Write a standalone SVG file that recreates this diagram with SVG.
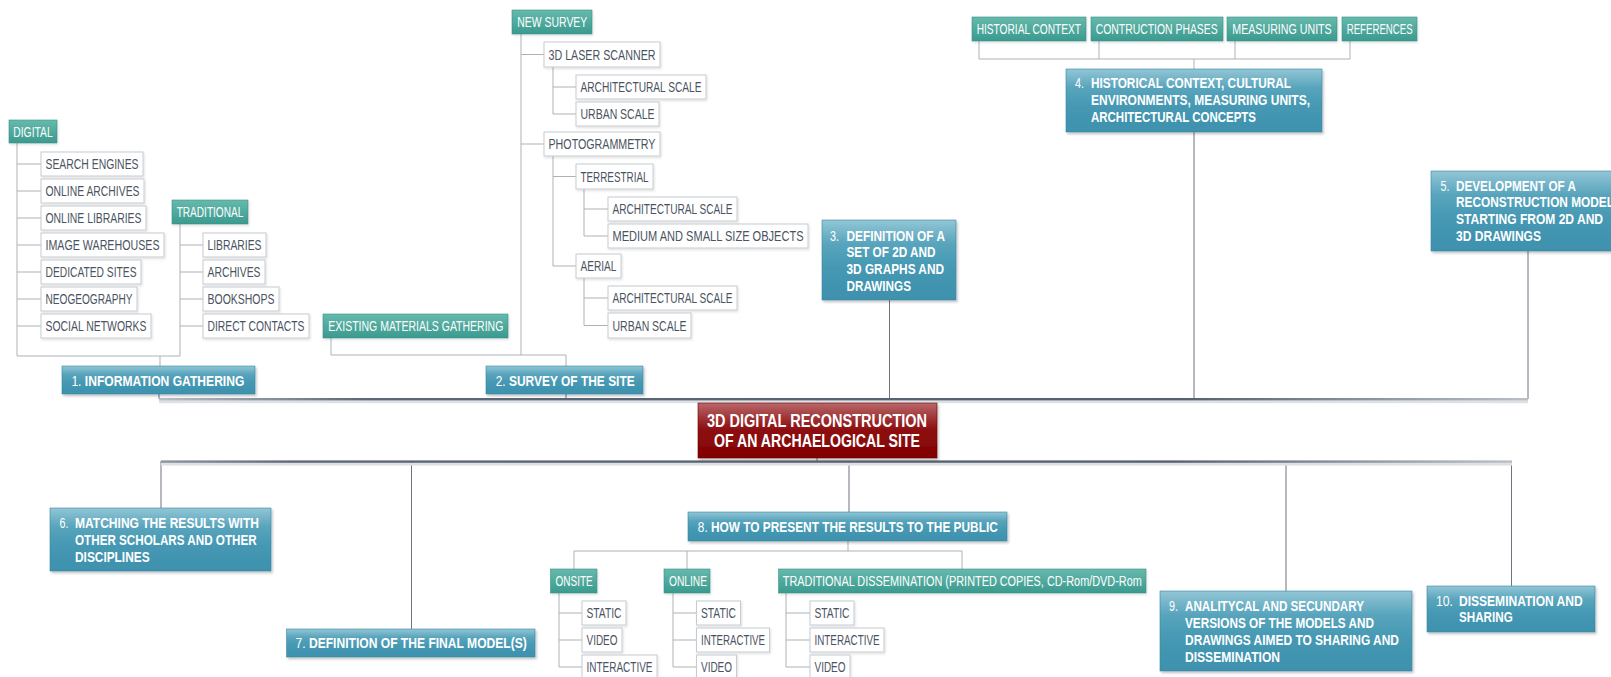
<svg xmlns="http://www.w3.org/2000/svg" width="1611" height="677" viewBox="0 0 1611 677">
<defs>
<linearGradient id="gb" x1="0" y1="0" x2="0" y2="1"><stop offset="0" stop-color="#92c6d6"/><stop offset="0.3" stop-color="#58a4bc"/><stop offset="0.6" stop-color="#4598b3"/><stop offset="1" stop-color="#3e91ad"/></linearGradient>
<linearGradient id="gt" x1="0" y1="0" x2="0" y2="1"><stop offset="0" stop-color="#66b9ad"/><stop offset="1" stop-color="#3b9a8e"/></linearGradient>
<linearGradient id="gr" x1="0" y1="0" x2="0" y2="1"><stop offset="0" stop-color="#b9676a"/><stop offset="0.45" stop-color="#8f1213"/><stop offset="1" stop-color="#820000"/></linearGradient>
<linearGradient id="gl1" gradientUnits="userSpaceOnUse" x1="159" y1="0" x2="1528" y2="0"><stop offset="0" stop-color="#b9bfc6"/><stop offset="0.15" stop-color="#5d6876"/><stop offset="0.75" stop-color="#56616f"/><stop offset="1" stop-color="#b9bfc6"/></linearGradient>
<linearGradient id="gl2" gradientUnits="userSpaceOnUse" x1="161" y1="0" x2="1512" y2="0"><stop offset="0" stop-color="#8c949e"/><stop offset="0.1" stop-color="#5d6876"/><stop offset="0.75" stop-color="#56616f"/><stop offset="1" stop-color="#b9bfc6"/></linearGradient>
<filter id="sh" x="-5%" y="-10%" width="115%" height="130%"><feDropShadow dx="1.5" dy="2" stdDeviation="1" flood-color="#000" flood-opacity="0.22"/></filter>
<filter id="sh2" x="-5%" y="-10%" width="115%" height="130%"><feDropShadow dx="1" dy="1.5" stdDeviation="0.8" flood-color="#000" flood-opacity="0.12"/></filter>
</defs>
<style>
text{font-family:"Liberation Sans","Roboto",Arial,sans-serif}
.lf rect{fill:#fff;stroke:#c6cbd1;stroke-width:1;filter:url(#sh2)}
.lf text{font-size:15px;fill:#4a5361}
.tl rect{fill:url(#gt);stroke:#3b9185;stroke-width:0.6;filter:url(#sh2)}
.tl text{font-size:15px;fill:#fff}
.bl rect{fill:url(#gb);stroke:#3a87a1;stroke-width:0.6;filter:url(#sh)}
.bl text{font-size:15.5px;fill:#fff;font-weight:bold}
.bl .n{font-weight:normal}
.rd rect{fill:url(#gr);stroke:#6d0000;stroke-width:0.6;filter:url(#sh)}
.rd text{font-size:18.5px;fill:#fff;font-weight:bold}
.c1{fill:none;stroke:#adb2b8;stroke-width:1}
.c2{fill:none;stroke:#6c7580;stroke-width:1}
</style>
<rect width="1611" height="677" fill="#fff"/>
<g id="connectors">
<path class="c1" d="M17 143V356H180V224M160 356V366M17 164H41M17 191H41M17 218H41M17 245H41M17 272H41M17 299H41M17 326H41M180 245H203M180 272H203M180 299H203M180 326H203"/>
<path class="c1" d="M521 34V355M331 338V355H566V366M521 54.5H544M521 144H544M553 67V114H576M553 87H576M553 156V266H576M553 176.5H576M584 189V236H608M584 209H608M584 278V325.5H608M584 298H608"/>
<path class="c1" d="M979 41V59H1350V41M1099 41V59M1235 41V59M1194 59V69"/>
<path class="c1" d="M848 541V551M574 569V551H962V569M687 551V569M559 593V667H582M559 613H582M559 640H582M673 593V667H696.5M673 613H696.5M673 640H696.5M786 593V667H810M786 613H810M786 640H810"/>
<path class="c2" d="M159 394V399M566 394V399M889.5 300V399M1194 132V399M1528 251V399M817 399V403M817 458V461M161 461V508M411.5 461V629M849 461V513M1286 461V591M1511.5 461V586"/>
<rect x="159" y="400.2" width="1369" height="3" fill="#dde0e4"/>
<rect x="159" y="398" width="1369" height="2.4" fill="url(#gl1)"/>
<rect x="161" y="462.6" width="1351" height="3" fill="#dde0e4"/>
<rect x="161" y="460.4" width="1351" height="2.4" fill="url(#gl2)"/>
</g>
<g id="center" class="rd"><rect x="698" y="403" width="239" height="55"/><text x="707" y="426.5" textLength="220" lengthAdjust="spacingAndGlyphs">3D DIGITAL RECONSTRUCTION</text><text x="714" y="447" textLength="206" lengthAdjust="spacingAndGlyphs">OF AN ARCHAELOGICAL SITE</text></g>
<g id="n1" class="bl"><rect x="62" y="366" width="193" height="28"/><text x="71.4" y="385.5" textLength="173" lengthAdjust="spacingAndGlyphs"><tspan class="n">1.</tspan> INFORMATION GATHERING</text></g>
<g id="n2" class="bl"><rect x="486" y="366" width="157" height="28"/><text x="495.7" y="385.5" textLength="139" lengthAdjust="spacingAndGlyphs"><tspan class="n">2.</tspan> SURVEY OF THE SITE</text></g>
<g id="n3" class="bl"><rect x="822" y="220" width="134" height="80"/><text class="n" x="830" y="240.5" textLength="9" lengthAdjust="spacingAndGlyphs">3.</text><text x="846.5" y="240.5" textLength="98.5" lengthAdjust="spacingAndGlyphs">DEFINITION OF A</text><text x="846.5" y="257" textLength="89" lengthAdjust="spacingAndGlyphs">SET OF 2D AND</text><text x="846.5" y="274" textLength="97.5" lengthAdjust="spacingAndGlyphs">3D GRAPHS AND</text><text x="846.5" y="290.5" textLength="64.5" lengthAdjust="spacingAndGlyphs">DRAWINGS</text></g>
<g id="n4" class="bl"><rect x="1066" y="69" width="256" height="63"/><text class="n" x="1075" y="88" textLength="9" lengthAdjust="spacingAndGlyphs">4.</text><text x="1091" y="88" textLength="200" lengthAdjust="spacingAndGlyphs">HISTORICAL CONTEXT, CULTURAL</text><text x="1091" y="105" textLength="219" lengthAdjust="spacingAndGlyphs">ENVIRONMENTS, MEASURING UNITS,</text><text x="1091" y="122" textLength="165" lengthAdjust="spacingAndGlyphs">ARCHITECTURAL CONCEPTS</text></g>
<g id="n5" class="bl"><rect x="1431" y="171" width="200" height="80"/><text class="n" x="1440.5" y="190.5" textLength="9" lengthAdjust="spacingAndGlyphs">5.</text><text x="1456" y="190.5" textLength="120" lengthAdjust="spacingAndGlyphs">DEVELOPMENT OF A</text><text x="1456" y="207" textLength="158" lengthAdjust="spacingAndGlyphs">RECONSTRUCTION MODEL</text><text x="1456" y="224" textLength="147" lengthAdjust="spacingAndGlyphs">STARTING FROM 2D AND</text><text x="1456" y="241" textLength="85" lengthAdjust="spacingAndGlyphs">3D DRAWINGS</text></g>
<g id="n6" class="bl"><rect x="50" y="508" width="221" height="63"/><text class="n" x="59.4" y="527.5" textLength="9" lengthAdjust="spacingAndGlyphs">6.</text><text x="75" y="527.5" textLength="184" lengthAdjust="spacingAndGlyphs">MATCHING THE RESULTS WITH</text><text x="75" y="544.5" textLength="181.7" lengthAdjust="spacingAndGlyphs">OTHER SCHOLARS AND OTHER</text><text x="75" y="561.5" textLength="74.6" lengthAdjust="spacingAndGlyphs">DISCIPLINES</text></g>
<g id="n7" class="bl"><rect x="286.6" y="629" width="248.4" height="28"/><text x="295.5" y="648" textLength="231.3" lengthAdjust="spacingAndGlyphs"><tspan class="n">7.</tspan> DEFINITION OF THE FINAL MODEL(S)</text></g>
<g id="n8" class="bl"><rect x="688" y="512" width="319" height="29"/><text x="697.8" y="532" textLength="300" lengthAdjust="spacingAndGlyphs"><tspan class="n">8.</tspan> HOW TO PRESENT THE RESULTS TO THE PUBLIC</text></g>
<g id="n9" class="bl"><rect x="1160" y="591" width="252" height="80"/><text class="n" x="1169" y="610.5" textLength="9" lengthAdjust="spacingAndGlyphs">9.</text><text x="1185" y="610.5" textLength="179" lengthAdjust="spacingAndGlyphs">ANALITYCAL AND SECUNDARY</text><text x="1185" y="627.5" textLength="189" lengthAdjust="spacingAndGlyphs">VERSIONS OF THE MODELS AND</text><text x="1185" y="644.5" textLength="214" lengthAdjust="spacingAndGlyphs">DRAWINGS AIMED TO SHARING AND</text><text x="1185" y="661.5" textLength="95" lengthAdjust="spacingAndGlyphs">DISSEMINATION</text></g>
<g id="n10" class="bl"><rect x="1427" y="586" width="168" height="46"/><text class="n" x="1436" y="605.5" textLength="17" lengthAdjust="spacingAndGlyphs">10.</text><text x="1459" y="605.5" textLength="123.7" lengthAdjust="spacingAndGlyphs">DISSEMINATION AND</text><text x="1459" y="622" textLength="53.7" lengthAdjust="spacingAndGlyphs">SHARING</text></g>
<g id="t-digital" class="tl"><rect x="9" y="120" width="48" height="23"/><text x="13.3" y="136.5" textLength="39.4" lengthAdjust="spacingAndGlyphs">DIGITAL</text></g>
<g id="t-traditional" class="tl"><rect x="172" y="200" width="76" height="24"/><text x="176.7" y="217" textLength="66.6" lengthAdjust="spacingAndGlyphs">TRADITIONAL</text></g>
<g id="t-newsurvey" class="tl"><rect x="512" y="10" width="80" height="24"/><text x="517.3" y="27" textLength="70" lengthAdjust="spacingAndGlyphs">NEW SURVEY</text></g>
<g id="t-existing" class="tl"><rect x="323" y="314" width="185" height="24"/><text x="328.3" y="331" textLength="175" lengthAdjust="spacingAndGlyphs">EXISTING MATERIALS GATHERING</text></g>
<g id="t-historial" class="tl"><rect x="972" y="17" width="114" height="24"/><text x="976.7" y="34" textLength="104.3" lengthAdjust="spacingAndGlyphs">HISTORIAL CONTEXT</text></g>
<g id="t-contruction" class="tl"><rect x="1091" y="17" width="132" height="24"/><text x="1095.7" y="34" textLength="122" lengthAdjust="spacingAndGlyphs">CONTRUCTION PHASES</text></g>
<g id="t-measuring" class="tl"><rect x="1227" y="17" width="110" height="24"/><text x="1232.3" y="34" textLength="99.4" lengthAdjust="spacingAndGlyphs">MEASURING UNITS</text></g>
<g id="t-references" class="tl"><rect x="1342" y="17" width="75" height="24"/><text x="1346.7" y="34" textLength="66" lengthAdjust="spacingAndGlyphs">REFERENCES</text></g>
<g id="t-onsite" class="tl"><rect x="550.5" y="569" width="46.5" height="24"/><text x="555.6" y="586" textLength="37" lengthAdjust="spacingAndGlyphs">ONSITE</text></g>
<g id="t-online" class="tl"><rect x="664" y="569" width="46" height="24"/><text x="669" y="586" textLength="38" lengthAdjust="spacingAndGlyphs">ONLINE</text></g>
<g id="t-tradiss" class="tl"><rect x="778.6" y="569" width="367.4" height="24"/><text x="782.8" y="586" textLength="359" lengthAdjust="spacingAndGlyphs">TRADITIONAL DISSEMINATION (PRINTED COPIES, CD-Rom/DVD-Rom</text></g>
<g id="l-search" class="lf"><rect x="41" y="152" width="102" height="24"/><text x="45.5" y="169" textLength="93" lengthAdjust="spacingAndGlyphs">SEARCH ENGINES</text></g>
<g id="l-onlarch" class="lf"><rect x="41" y="179" width="103" height="24"/><text x="45.5" y="196" textLength="94" lengthAdjust="spacingAndGlyphs">ONLINE ARCHIVES</text></g>
<g id="l-onllib" class="lf"><rect x="41" y="206" width="105" height="24"/><text x="45.5" y="223" textLength="96" lengthAdjust="spacingAndGlyphs">ONLINE LIBRARIES</text></g>
<g id="l-image" class="lf"><rect x="41" y="233" width="123" height="24"/><text x="45.5" y="250" textLength="114" lengthAdjust="spacingAndGlyphs">IMAGE WAREHOUSES</text></g>
<g id="l-dedic" class="lf"><rect x="41" y="260" width="100" height="24"/><text x="45.5" y="277" textLength="91" lengthAdjust="spacingAndGlyphs">DEDICATED SITES</text></g>
<g id="l-neo" class="lf"><rect x="41" y="287" width="96" height="24"/><text x="45.5" y="304" textLength="87" lengthAdjust="spacingAndGlyphs">NEOGEOGRAPHY</text></g>
<g id="l-social" class="lf"><rect x="41" y="314" width="110" height="24"/><text x="45.5" y="331" textLength="101" lengthAdjust="spacingAndGlyphs">SOCIAL NETWORKS</text></g>
<g id="l-libraries" class="lf"><rect x="203" y="233" width="63" height="24"/><text x="207.5" y="250" textLength="54" lengthAdjust="spacingAndGlyphs">LIBRARIES</text></g>
<g id="l-archives" class="lf"><rect x="203" y="260" width="62" height="24"/><text x="207.5" y="277" textLength="53" lengthAdjust="spacingAndGlyphs">ARCHIVES</text></g>
<g id="l-bookshops" class="lf"><rect x="203" y="287" width="76" height="24"/><text x="207.5" y="304" textLength="67" lengthAdjust="spacingAndGlyphs">BOOKSHOPS</text></g>
<g id="l-direct" class="lf"><rect x="203" y="314" width="106" height="24"/><text x="207.5" y="331" textLength="97" lengthAdjust="spacingAndGlyphs">DIRECT CONTACTS</text></g>
<g id="l-laser" class="lf"><rect x="544" y="42" width="116" height="25"/><text x="548.5" y="59.5" textLength="107" lengthAdjust="spacingAndGlyphs">3D LASER SCANNER</text></g>
<g id="l-arch1" class="lf"><rect x="576" y="75" width="130" height="24"/><text x="580.5" y="92" textLength="121" lengthAdjust="spacingAndGlyphs">ARCHITECTURAL SCALE</text></g>
<g id="l-urban1" class="lf"><rect x="576" y="102" width="83" height="24"/><text x="580.5" y="119" textLength="74" lengthAdjust="spacingAndGlyphs">URBAN SCALE</text></g>
<g id="l-photo" class="lf"><rect x="544" y="132" width="116" height="24"/><text x="548.5" y="149" textLength="107" lengthAdjust="spacingAndGlyphs">PHOTOGRAMMETRY</text></g>
<g id="l-terr" class="lf"><rect x="576" y="164" width="77" height="25"/><text x="580.5" y="181.5" textLength="68" lengthAdjust="spacingAndGlyphs">TERRESTRIAL</text></g>
<g id="l-arch2" class="lf"><rect x="608" y="197" width="129" height="24"/><text x="612.5" y="214" textLength="120" lengthAdjust="spacingAndGlyphs">ARCHITECTURAL SCALE</text></g>
<g id="l-medium" class="lf"><rect x="608" y="224" width="200" height="24"/><text x="612.5" y="241" textLength="191" lengthAdjust="spacingAndGlyphs">MEDIUM AND SMALL SIZE OBJECTS</text></g>
<g id="l-aerial" class="lf"><rect x="576" y="254" width="45" height="24"/><text x="580.5" y="271" textLength="36" lengthAdjust="spacingAndGlyphs">AERIAL</text></g>
<g id="l-arch3" class="lf"><rect x="608" y="286" width="129" height="24"/><text x="612.5" y="303" textLength="120" lengthAdjust="spacingAndGlyphs">ARCHITECTURAL SCALE</text></g>
<g id="l-urban2" class="lf"><rect x="608" y="313" width="83" height="25"/><text x="612.5" y="330.5" textLength="74" lengthAdjust="spacingAndGlyphs">URBAN SCALE</text></g>
<g id="l-os-static" class="lf"><rect x="582" y="601" width="44" height="24"/><text x="586.5" y="618" textLength="35" lengthAdjust="spacingAndGlyphs">STATIC</text></g>
<g id="l-os-video" class="lf"><rect x="582" y="628" width="40" height="24"/><text x="586.5" y="645" textLength="31" lengthAdjust="spacingAndGlyphs">VIDEO</text></g>
<g id="l-os-inter" class="lf"><rect x="582" y="655" width="75" height="24"/><text x="586.5" y="672" textLength="66" lengthAdjust="spacingAndGlyphs">INTERACTIVE</text></g>
<g id="l-ol-static" class="lf"><rect x="696.5" y="601" width="44" height="24"/><text x="701" y="618" textLength="35" lengthAdjust="spacingAndGlyphs">STATIC</text></g>
<g id="l-ol-inter" class="lf"><rect x="696.5" y="628" width="73" height="24"/><text x="701" y="645" textLength="64" lengthAdjust="spacingAndGlyphs">INTERACTIVE</text></g>
<g id="l-ol-video" class="lf"><rect x="696.5" y="655" width="40" height="24"/><text x="701" y="672" textLength="31" lengthAdjust="spacingAndGlyphs">VIDEO</text></g>
<g id="l-td-static" class="lf"><rect x="810" y="601" width="44" height="24"/><text x="814.5" y="618" textLength="35" lengthAdjust="spacingAndGlyphs">STATIC</text></g>
<g id="l-td-inter" class="lf"><rect x="810" y="628" width="74" height="24"/><text x="814.5" y="645" textLength="65" lengthAdjust="spacingAndGlyphs">INTERACTIVE</text></g>
<g id="l-td-video" class="lf"><rect x="810" y="655" width="40" height="24"/><text x="814.5" y="672" textLength="31" lengthAdjust="spacingAndGlyphs">VIDEO</text></g>
</svg>
